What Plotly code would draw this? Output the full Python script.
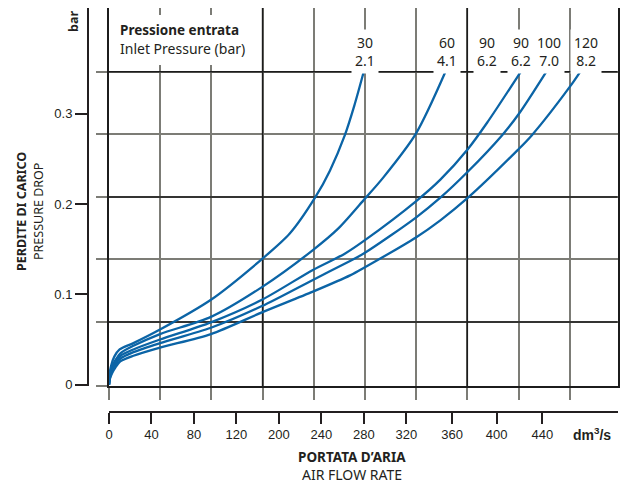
import plotly.graph_objects as go

# ---------------- data ----------------
# Air flow (axis units) and pressure drop (bar) for each inlet-pressure curve
c30_x = [0, 0.5, 2, 5, 10, 23, 48, 96, 144, 170, 194, 208, 222, 231, 240]
c30_y = [0, 0.011, 0.021, 0.031, 0.039, 0.046, 0.061, 0.094, 0.139, 0.167, 0.207, 0.237, 0.276, 0.309, 0.347]

c60_x = [0, 1, 3, 6, 11, 23, 48, 96, 144, 192, 216, 241, 258, 289, 317]
c60_y = [0, 0.012, 0.021, 0.027, 0.035, 0.043, 0.056, 0.075, 0.108, 0.149, 0.173, 0.206, 0.229, 0.278, 0.347]

c90_x = [0, 1, 3, 6, 11, 23, 48, 96, 144, 192, 222, 241, 289, 312, 338, 356, 388]
c90_y = [0, 0.010, 0.017, 0.024, 0.032, 0.039, 0.050, 0.069, 0.094, 0.127, 0.145, 0.160, 0.203, 0.227, 0.261, 0.290, 0.347]

c100_x = [0, 1, 3, 6, 11, 23, 48, 96, 144, 192, 227, 241, 289, 312, 338, 370, 386, 412]
c100_y = [0, 0.008, 0.015, 0.022, 0.029, 0.036, 0.046, 0.063, 0.087, 0.116, 0.137, 0.146, 0.185, 0.207, 0.236, 0.276, 0.300, 0.347]

c120_x = [0, 1, 3, 6, 11, 23, 48, 96, 144, 192, 227, 241, 289, 312, 338, 385, 398, 434, 444]
c120_y = [0, 0.007, 0.013, 0.019, 0.026, 0.032, 0.041, 0.056, 0.080, 0.103, 0.121, 0.130, 0.163, 0.182, 0.207, 0.260, 0.276, 0.330, 0.347]

curves = [(c30_x, c30_y), (c60_x, c60_y), (c90_x, c90_y), (c100_x, c100_y), (c120_x, c120_y)]

# curve labels: top line, bottom line
label_top = ["30", "60", "90", "90", "100", "120"]
label_bottom = ["2.1", "4.1", "6.2", "6.2", "7.0", "8.2"]
label_pos = [241, 318, 356, 388, 414, 449]

# bottom axis tick labels and where they sit on the axis
x_ticktext = ["0", "40", "80", "120", "200", "240", "280", "320", "360", "400", "440"]
x_tickpos = [0, 40, 80, 120, 160, 200, 240, 280, 323, 365, 408]

# left axis ticks
y_tickvals = [0, 0.1, 0.2, 0.3]
y_ticktext = ["0", "0.1", "0.2", "0.3"]

# background grid
grid_x = [0, 48.2, 96.4, 144.6, 192.8, 241, 289.2, 337.4, 385.6, 433.8]
grid_y = [-0.0015, 0.0693, 0.1386, 0.2079, 0.2772, 0.3465]
grid_x_dark = [144.6, 337.4]
grid_y_dark = [0.0693, 0.2079, 0.3465]

X_RANGE = [0, 479]
Y_RANGE = [-0.0015, 0.4171]

# ---------------- figure ----------------
# the page body has an 8px margin: the figure is drawn at (8, 8) in the window
OFF = 8
W, H = 628 - OFF, 484 - OFF
def fx(p):
    return min(1, max(0, (p - OFF) / W))
def fy(p):
    return min(1, max(0, 1 - (p - OFF) / H))

BLUE = "#0b64a6"
GRAY = "#7c7c76"
DARK = "#1c1c1c"
TXT = "#231f20"
SANS = "Noto Sans"
HELV = "Liberation Sans"

fig = go.Figure()
for i, (xs, ys) in enumerate(curves):
    fig.add_trace(go.Scatter(
        x=xs, y=ys, mode="lines",
        line=dict(color=BLUE, width=2.3, shape="spline", smoothing=0.8),
        xaxis="x2" if i == 0 else "x", yaxis="y2" if i == 0 else "y",
        showlegend=False, hoverinfo="skip"))

shapes = []
for gx in grid_x_dark:
    shapes.append(dict(type="line", xref="x", yref="y", x0=gx, x1=gx, y0=Y_RANGE[0], y1=Y_RANGE[1],
                       line=dict(color=DARK, width=1.5), layer="between"))
for gy in grid_y_dark:
    shapes.append(dict(type="line", xref="x", yref="y", x0=X_RANGE[0], x1=X_RANGE[1], y0=gy, y1=gy,
                       line=dict(color=DARK, width=1.5), layer="between"))
# white panel behind the inlet-pressure caption
shapes.append(dict(type="rect", xref="paper", yref="paper", x0=fx(111), x1=fx(254), y0=fy(65), y1=fy(15),
                   fillcolor="white", line=dict(width=0), layer="above"))

annotations = []
for t, b, xp in zip(label_top, label_bottom, label_pos):
    annotations.append(dict(xref="x", yref="paper", x=xp, y=fy(51.5), text=f"{t}<br>{b}",
                            xanchor="center", yanchor="middle",
                            showarrow=False, bgcolor="white", borderpad=3,
                            font=dict(family=SANS, size=14, color=TXT), align="center"))

def note(x, y, text, size, family=SANS, angle=0, **kw):
    d = dict(xref="paper", yref="paper", x=fx(x), y=fy(y), text=text, textangle=angle,
             xanchor="center", yanchor="middle",
             showarrow=False, font=dict(family=family, size=size, color=TXT))
    d.update(kw)
    return d

annotations += [
    note(118, 30, "<b>Pressione entrata</b>", 13.5, xanchor="left"),
    note(118, 48, "Inlet Pressure (bar)", 14, xanchor="left"),
    note(73, 22, "<b>bar</b>", 12.5, angle=-90),
    note(21, 212, "<b>PERDITE DI CARICO</b>", 12.5, angle=-90),
    note(38, 212, "PRESSURE DROP", 12.5, angle=-90),
    note(352, 456.5, "<b>PORTATA D\u2019ARIA</b>", 13.5),
    note(352, 474.5, "AIR FLOW RATE", 14),
    note(592, 434, "<b>dm<sup>3</sup>/s</b>", 14, family=HELV),
]

fig.update_layout(
    template="none",
    width=W, height=H, margin=dict(l=0, r=0, t=0, b=0, pad=0, autoexpand=False),
    paper_bgcolor="white", plot_bgcolor="white",
    xaxis=dict(domain=[fx(109), fx(617.7)], range=X_RANGE, tickvals=grid_x, showticklabels=False,
               ticks="outside", ticklen=12, tickcolor=GRAY, tickwidth=1.5, automargin=False,
               showgrid=True, gridcolor=GRAY, gridwidth=1.5, zeroline=False,
               showline=True, linecolor=DARK, linewidth=2, mirror=True),
    yaxis=dict(domain=[fy(386), fy(8)], range=Y_RANGE, tickvals=grid_y, showticklabels=False,
               ticks="outside", ticklen=11, tickcolor=GRAY, tickwidth=1.5, automargin=False,
               showgrid=True, gridcolor=GRAY, gridwidth=1.5, zeroline=False,
               showline=True, linecolor=DARK, linewidth=2, mirror=True),
    xaxis2=dict(overlaying="x", matches="x", anchor="free", position=fy(411.7), side="bottom",
                tickvals=x_tickpos, ticktext=x_ticktext, ticks="outside", ticklen=11,
                tickcolor=TXT, tickwidth=1.5, showgrid=False, zeroline=False, automargin=False,
                showline=True, linecolor=TXT, linewidth=2,
                tickfont=dict(family=HELV, size=13, color=TXT)),
    yaxis2=dict(overlaying="y", matches="y", anchor="free", position=fx(88), side="left",
                tickvals=y_tickvals, ticktext=y_ticktext, ticks="outside", ticklen=12,
                tickcolor=TXT, tickwidth=1.5, showgrid=False, zeroline=False, automargin=False,
                showline=True, linecolor=TXT, linewidth=2,
                tickfont=dict(family=HELV, size=13, color=TXT)),
    shapes=shapes, annotations=annotations,
)

fig.write_html("out.html")
